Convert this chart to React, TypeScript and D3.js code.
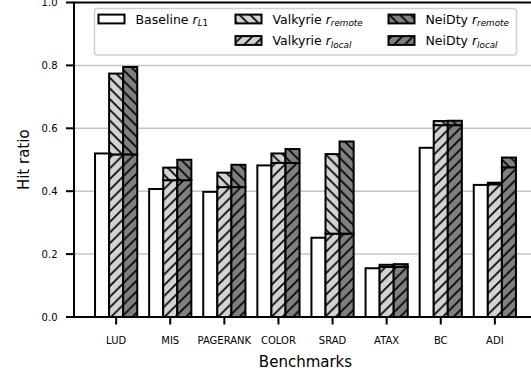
import React from "react";
import * as d3 from "d3";

// Benchmarks and hit ratios
const benchmarks = ["LUD", "MIS", "PAGERANK", "COLOR", "SRAD", "ATAX", "BC", "ADI"];
const baselineL1 = [0.52, 0.407, 0.398, 0.482, 0.252, 0.155, 0.538, 0.42];
const valkyrieLocal = [0.517, 0.435, 0.413, 0.49, 0.265, 0.159, 0.61, 0.422];
const valkyrieRemote = [0.257, 0.04, 0.046, 0.03, 0.253, 0.007, 0.013, 0.005];
const neidtyLocal = [0.517, 0.435, 0.413, 0.49, 0.265, 0.159, 0.61, 0.476];
const neidtyRemote = [0.278, 0.065, 0.071, 0.044, 0.293, 0.009, 0.014, 0.031];
const yTicks = [0, 0.2, 0.4, 0.6, 0.8, 1.0];

const W = 531;
const H = 375;
const FONT = "DejaVu Sans, Verdana, sans-serif";
const BAR_W = 0.26;
const HATCH = 10.7;

const x = d3.scaleLinear().domain([-0.779, 7.779]).range([74, 537]);
const y = d3.scaleLinear().domain([0, 1]).range([317, 2.5]);

const LIGHT = "#d3d3d3";
const DARK = "#808080";

function Hatch({ id, fill, dir }: { id: string; fill: string; dir: "/" | "\\" }) {
  const s = HATCH;
  const d =
    dir === "/"
      ? `M0,${s} L${s},0 M${-s / 4},${s / 4} L${s / 4},${-s / 4} M${(3 * s) / 4},${(5 * s) / 4} L${(5 * s) / 4},${(3 * s) / 4}`
      : `M0,0 L${s},${s} M${-s / 4},${(3 * s) / 4} L${s / 4},${(5 * s) / 4} M${(3 * s) / 4},${-s / 4} L${(5 * s) / 4},${s / 4}`;
  return (
    <pattern id={id} patternUnits="userSpaceOnUse" width={s} height={s}>
      <rect width={s} height={s} fill={fill} />
      <path d={d} stroke="#000" strokeWidth={1.7} />
    </pattern>
  );
}

function Sub({ base, sub }: { base: string; sub: string }) {
  return (
    <>
      <tspan fontStyle="italic">{base}</tspan>
      <tspan fontSize="8.8" dy="2.6" fontStyle="italic">{sub}</tspan>
    </>
  );
}

export default function App() {
  const bw = x(BAR_W) - x(0);
  const bar = (cx: number, y0: number, y1: number, fill: string, key: string) => (
    <rect
      key={key}
      x={x(cx) - bw / 2}
      y={y(y1)}
      width={bw}
      height={y(y0) - y(y1)}
      fill={fill}
      stroke="#000"
      strokeWidth={2}
    />
  );

  const legendRows = [
    { hx: 98.5, ty: 23.5, cy: 19, fill: "#fff", label: "Baseline ", sub: "L1", subRoman: true },
    { hx: 235.5, ty: 23.5, cy: 19, fill: "url(#vRemote)", label: "Valkyrie ", sub: "remote" },
    { hx: 235.5, ty: 45, cy: 40.5, fill: "url(#vLocal)", label: "Valkyrie ", sub: "local" },
    { hx: 388.5, ty: 23.5, cy: 19, fill: "url(#nRemote)", label: "NeiDty ", sub: "remote" },
    { hx: 388.5, ty: 45, cy: 40.5, fill: "url(#nLocal)", label: "NeiDty ", sub: "local" },
  ];

  return (
    <svg
      width={W}
      height={H}
      style={{ position: "absolute", left: 0, top: 0, background: "#fff" }}
      fontFamily={FONT}
    >
      <defs>
        <Hatch id="vLocal" fill={LIGHT} dir="/" />
        <Hatch id="vRemote" fill={LIGHT} dir="\\" />
        <Hatch id="nLocal" fill={DARK} dir="/" />
        <Hatch id="nRemote" fill={DARK} dir="\\" />
      </defs>

      {/* grid */}
      {yTicks.slice(1, -1).map((t) => (
        <line key={t} x1={74} x2={537} y1={y(t)} y2={y(t)} stroke="#c4c4c4" strokeWidth={1.5} />
      ))}

      {/* bars */}
      {benchmarks.map((b, i) => (
        <g key={b}>
          {bar(i - BAR_W, 0, baselineL1[i], "#fff", "base")}
          {bar(i, 0, valkyrieLocal[i], "url(#vLocal)", "vl")}
          {bar(i, valkyrieLocal[i], valkyrieLocal[i] + valkyrieRemote[i], "url(#vRemote)", "vr")}
          {bar(i + BAR_W, 0, neidtyLocal[i], "url(#nLocal)", "nl")}
          {bar(i + BAR_W, neidtyLocal[i], neidtyLocal[i] + neidtyRemote[i], "url(#nRemote)", "nr")}
        </g>
      ))}

      {/* spines */}
      <line x1={74} x2={74} y1={y(0)} y2={y(1)} stroke="#000" strokeWidth={2} />
      <line x1={73} x2={537} y1={y(0)} y2={y(0)} stroke="#000" strokeWidth={2} />
      <line x1={73} x2={537} y1={y(1)} y2={y(1)} stroke="#000" strokeWidth={2} />

      {/* y axis */}
      {yTicks.map((t) => (
        <g key={t}>
          <line x1={66} x2={74} y1={y(t)} y2={y(t)} stroke="#000" strokeWidth={2} />
          <text x={57.5} y={y(t)} dy="0.36em" textAnchor="end" fontSize={10} fill="#000">
            {t.toFixed(1)}
          </text>
        </g>
      ))}
      <text
        transform={`translate(28.5, ${(y(0) + y(1)) / 2}) rotate(-90)`}
        textAnchor="middle"
        fontSize={15}
        fill="#000"
      >
        Hit ratio
      </text>

      {/* x axis */}
      {benchmarks.map((b, i) => (
        <g key={b}>
          <line x1={x(i)} x2={x(i)} y1={y(0)} y2={y(0) + 7.5} stroke="#000" strokeWidth={2} />
          <text x={x(i)} y={343.5} textAnchor="middle" fontSize={10} fill="#000">
            {b}
          </text>
        </g>
      ))}
      <text x={(x.range()[0] + x.range()[1]) / 2} y={366.5} textAnchor="middle" fontSize={15} fill="#000">
        Benchmarks
      </text>

      {/* legend */}
      <rect x={94.5} y={8.5} width={422} height={46.5} rx={3} fill="#fff" fillOpacity={0.8} stroke="#d0d0d0" strokeWidth={1.5} />
      {legendRows.map((r, k) => (
        <g key={k}>
          <rect x={r.hx} y={r.cy - 4.4} width={26} height={8.8} fill={r.fill} stroke="#000" strokeWidth={2} />
          <text x={r.hx + 37} y={r.ty} fontSize={12.5} fill="#000">
            {r.label}
            <tspan fontStyle="italic">r</tspan>
            {r.subRoman ? (
              <>
                <tspan fontSize="8.8" dy="2.6" fontStyle="italic">L</tspan>
                <tspan fontSize="8.8">1</tspan>
              </>
            ) : (
              <tspan fontSize="8.8" dy="2.6" fontStyle="italic">{r.sub}</tspan>
            )}
          </text>
        </g>
      ))}
    </svg>
  );
}
